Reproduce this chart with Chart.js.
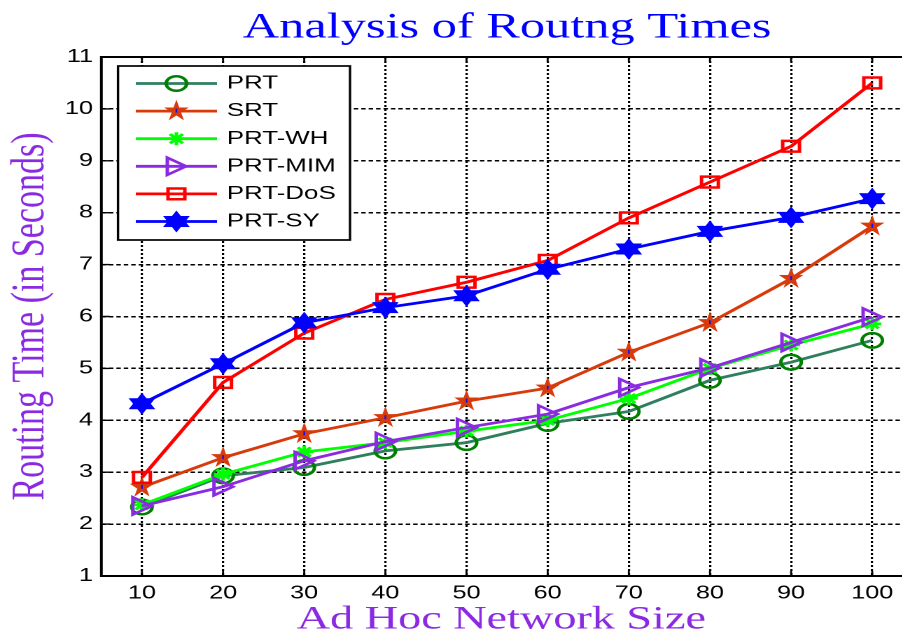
<!DOCTYPE html>
<html>
<head>
<meta charset="utf-8">
<title>Analysis of Routng Times</title>
<script src="https://cdn.jsdelivr.net/npm/chart.js@4.4.0/dist/chart.umd.min.js"></script>
<style>
  html, body { margin: 0; padding: 0; overflow: hidden; background: #fff; }
  /* the original figure is stretched sideways, so the whole chart is too */
  #wrap { width: 653px; height: 633px; transform: scaleX(1.4); transform-origin: 0 0; }
</style>
</head>
<body>
<div id="wrap"><canvas id="chartRouting" width="653" height="633"></canvas></div>
<script>
// ---- data ----
const networkSize = [10, 20, 30, 40, 50, 60, 70, 80, 90, 100];
const xTicks = [10, 20, 30, 40, 50, 60, 70, 80, 90, 100];
const yTicks = [1, 2, 3, 4, 5, 6, 7, 8, 9, 10, 11];

const prt    = [2.33, 2.93, 3.09, 3.41, 3.57, 3.94, 4.17, 4.77, 5.12, 5.54];
const srt    = [2.71, 3.28, 3.74, 4.05, 4.37, 4.62, 5.31, 5.88, 6.73, 7.74];
const prtWH  = [2.37, 2.96, 3.39, 3.57, 3.79, 4.00, 4.42, 5.00, 5.45, 5.86];
const prtMIM = [2.35, 2.72, 3.22, 3.59, 3.86, 4.12, 4.63, 5.01, 5.50, 5.99];
const prtDoS = [2.90, 4.73, 5.68, 6.33, 6.66, 7.08, 7.90, 8.59, 9.28, 10.50];
const prtSY  = [4.32, 5.09, 5.88, 6.17, 6.40, 6.91, 7.30, 7.64, 7.91, 8.27];

const seriesNames = ['PRT', 'SRT', 'PRT-WH', 'PRT-MIM', 'PRT-DoS', 'PRT-SY'];

Chart.defaults.font.family = '"Liberation Sans", Arial, sans-serif';
Chart.defaults.color = '#000';

const serif = '"Liberation Serif", "Times New Roman", serif';

function starPath(ctx, n, R, r, sx) {
    for (let i = 0; i < 2 * n; i++) {
        const a = -Math.PI / 2 + i * Math.PI / n;
        const rad = i % 2 ? r : R;
        const px = Math.cos(a) * rad * sx, py = Math.sin(a) * rad;
        if (i === 0) ctx.moveTo(px, py); else ctx.lineTo(px, py);
    }
    ctx.closePath();
}

// matlab-ish markers
function drawMarker(ctx, kind, x, y, color) {
    ctx.save();
    ctx.translate(x, y);
    ctx.setLineDash([]);
    ctx.strokeStyle = color;
    ctx.fillStyle = color;
    ctx.lineWidth = 2.5;
    ctx.lineJoin = 'miter';
    ctx.beginPath();
    if (kind === 'circle') {
        ctx.arc(0, 0, 7.3, 0, Math.PI * 2);
        ctx.stroke();
    } else if (kind === 'square') {
        ctx.rect(-6, -5.4, 12, 10.8);
        ctx.stroke();
    } else if (kind === 'triangle') {
        ctx.moveTo(7, 0);
        ctx.lineTo(-6.5, -8.6);
        ctx.lineTo(-6.5, 8.6);
        ctx.closePath();
        ctx.stroke();
    } else if (kind === 'asterisk') {
        for (let k = 0; k < 4; k++) {
            const a = k * Math.PI / 4;
            ctx.moveTo(-Math.cos(a) * 6.5, -Math.sin(a) * 6.5);
            ctx.lineTo(Math.cos(a) * 6.5, Math.sin(a) * 6.5);
        }
        ctx.lineWidth = 2.6;
        ctx.stroke();
    } else if (kind === 'pentagram') {
        starPath(ctx, 5, 11.5, 4.4, 0.8);
        ctx.fill();
        ctx.fillStyle = '#1010ff';
        ctx.fillRect(-0.6, -2.5, 1.2, 4);
    } else if (kind === 'hexagram') {
        starPath(ctx, 6, 11, 6.35, 1);
        ctx.fill();
    }
    ctx.restore();
}

const decor = {
    id: 'decor',
    beforeDatasetsDraw(chart) {
        const { ctx, chartArea: a, scales: { x, y } } = chart;
        ctx.save();
        ctx.setLineDash([]);
        ctx.strokeStyle = '#000';
        ctx.lineWidth = 2;
        ctx.strokeRect(a.left, a.top, a.right - a.left, a.bottom - a.top);
        ctx.lineWidth = 1.4;
        ctx.beginPath();
        x.ticks.forEach(t => {
            const px = x.getPixelForValue(t.value);
            ctx.moveTo(px, a.bottom); ctx.lineTo(px, a.bottom - 5);
            ctx.moveTo(px, a.top); ctx.lineTo(px, a.top + 5);
        });
        y.ticks.forEach(t => {
            const py = y.getPixelForValue(t.value);
            ctx.moveTo(a.left, py); ctx.lineTo(a.left + 6, py);
        });
        ctx.stroke();
        ctx.restore();
    },
    afterDatasetDraw(chart, args) {
        const ds = chart.data.datasets[args.index];
        args.meta.data.forEach(pt => drawMarker(chart.ctx, ds.marker, pt.x, pt.y, ds.markerColor));
    },
    afterDraw(chart) {
        // legend box, top left inside the axes
        const ctx = chart.ctx;
        const box = { left: 84.3, top: 66, right: 250, bottom: 240 };
        ctx.save();
        ctx.setLineDash([]);
        ctx.fillStyle = '#fff';
        ctx.fillRect(box.left, box.top, box.right - box.left, box.bottom - box.top);
        ctx.strokeStyle = '#000';
        ctx.lineWidth = 1.7;
        ctx.strokeRect(box.left, box.top, box.right - box.left, box.bottom - box.top);
        chart.data.datasets.forEach((ds, i) => {
            const yy = 83.5 + i * 27.6;
            ctx.beginPath();
            ctx.strokeStyle = ds.borderColor;
            ctx.lineWidth = ds.borderWidth;
            ctx.moveTo(97, yy);
            ctx.lineTo(155, yy);
            ctx.stroke();
            drawMarker(ctx, ds.marker, 126, yy, ds.markerColor);
            ctx.fillStyle = '#000';
            ctx.font = '18.5px "Liberation Sans", Arial, sans-serif';
            ctx.textBaseline = 'middle';
            ctx.textAlign = 'left';
            ctx.fillText(ds.label, 162, yy);
        });
        ctx.restore();
    }
};

function series(i, values, lineColor, marker, markerColor) {
    return {
        label: seriesNames[i],
        data: networkSize.map((x, k) => ({ x: x, y: values[k] })),
        borderColor: lineColor,
        borderWidth: 2.8,
        pointRadius: 0,
        pointHoverRadius: 0,
        fill: false,
        tension: 0,
        order: 5 - i,          // later series sit on top, like matlab
        marker: marker,
        markerColor: markerColor
    };
}

const ctx = document.getElementById('chartRouting').getContext('2d');

new Chart(ctx, {
    type: 'line',
    data: {
        datasets: [
            series(0, prt, '#2f7f5f', 'circle', '#008000'),
            series(1, srt, '#d83b0b', 'pentagram', '#d83b0b'),
            series(2, prtWH, '#00ff00', 'asterisk', '#00ff00'),
            series(3, prtMIM, '#8a2be2', 'triangle', '#8a2be2'),
            series(4, prtDoS, '#ff0000', 'square', '#ff0000'),
            series(5, prtSY, '#0000ff', 'hexagram', '#0000ff')
        ]
    },
    options: {
        responsive: false,
        animation: false,
        devicePixelRatio: 2,
        layout: { padding: { left: 0, right: 1, top: 0, bottom: 0 } },
        plugins: {
            legend: { display: false },
            tooltip: { enabled: false },
            title: {
                display: true,
                text: 'Analysis of Routng Times',
                color: '#0000ff',
                fullSize: false,
                font: { family: serif, size: 36, weight: 'normal', lineHeight: 1.2 },
                padding: { top: 6.4, bottom: 7.4 }
            }
        },
        scales: {
            x: {
                type: 'linear',
                min: 5,
                max: 105,
                afterBuildTicks: s => { s.ticks = xTicks.map(v => ({ value: v })); },
                afterFit: s => { s.height = 57; },
                grid: { color: '#000', lineWidth: 1.6, drawTicks: false },
                border: { display: false, dash: [2, 2] },
                ticks: { padding: 6.7, font: { size: 18 }, color: '#000', maxRotation: 0 },
                title: {
                    display: true,
                    text: 'Ad Hoc Network Size ',
                    color: '#8a2be2',
                    font: { family: serif, size: 33, lineHeight: 0.78 },
                    padding: { top: 0, bottom: 0.1 }
                }
            },
            y: {
                min: 1,
                max: 11,
                afterBuildTicks: s => { s.ticks = yTicks.map(v => ({ value: v })); },
                afterFit: s => { s.width = 72.4; },
                grid: { color: '#000', lineWidth: 1.5, drawTicks: false },
                border: { display: false, dash: [3.2, 2.1] },
                ticks: { padding: 6, font: { size: 18 }, color: '#000' },
                title: {
                    display: true,
                    text: 'Routing Time (in Seconds)',
                    color: '#8a2be2',
                    font: { family: serif, size: 34, lineHeight: 1 },
                    padding: { top: 5, bottom: 0 }
                }
            }
        }
    },
    plugins: [decor]
});
</script>
</body>
</html>
